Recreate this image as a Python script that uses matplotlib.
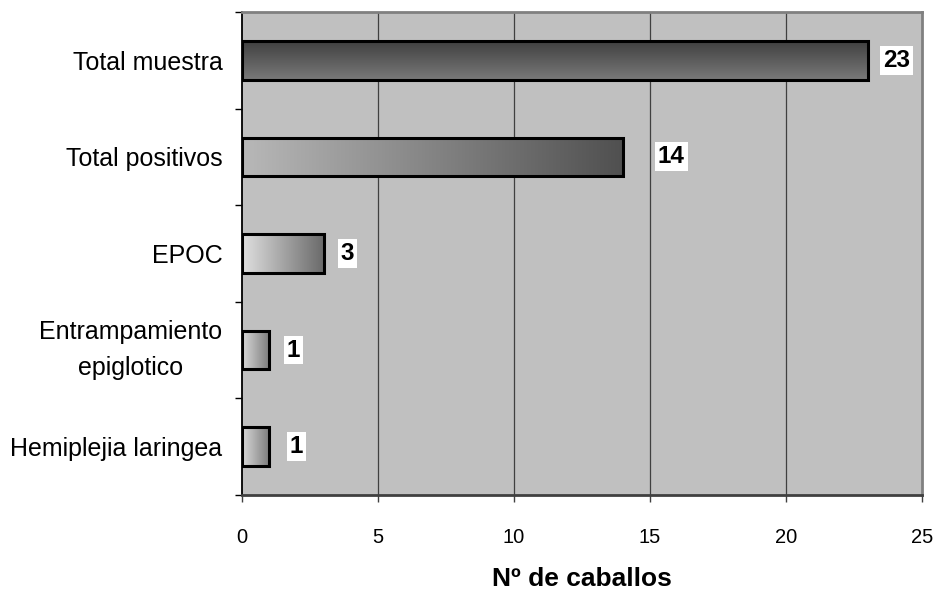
import matplotlib.pyplot as plt
import numpy as np
from matplotlib.colors import LinearSegmentedColormap

plt.rcParams['font.family'] = ['Liberation Sans', 'DejaVu Sans']

# datos
categorias = ['Total muestra', 'Total positivos', 'EPOC',
              'Entrampamiento\nepiglotico', 'Hemiplejia laringea']
caballos = [23, 14, 3, 1, 1]

# degradado de cada barra (claro -> oscuro)
degradados = [('#404040', '#7a7a7a'), ('#b8b8b8', '#505050'),
              ('#e0e0e0', '#6a6a6a'), ('#dadada', '#7a7a7a'),
              ('#dadada', '#7a7a7a')]
vertical = [True, False, False, False, False]
# separación de las etiquetas respecto al final de la barra (pt)
desplaz = [21, 35, 17, 17.5, 19.5]

fig = plt.figure(figsize=(9.36, 5.97), dpi=100)
ax = fig.add_axes([0.2585, 0.171, 0.7265, 0.809])
ax.set_facecolor('#c0c0c0')

n = len(categorias)
y = np.arange(n)[::-1]
alto = 0.40

# líneas de división verticales
for xv in [5, 10, 15, 20]:
    ax.axvline(xv, color='#404040', lw=0.9, zorder=1)

for yi, v, (c0, c1), vert, dx in zip(y, caballos, degradados, vertical, desplaz):
    cmap = LinearSegmentedColormap.from_list('g', [c0, c1])
    if vert:
        grad = np.linspace(0, 1, 256).reshape(-1, 1)
        origin = 'upper'
    else:
        grad = np.linspace(0, 1, 256).reshape(1, -1)
        origin = 'lower'
    ax.imshow(grad, cmap=cmap, aspect='auto', origin=origin,
              extent=(0, v, yi - alto / 2, yi + alto / 2), zorder=2)
    ax.barh(yi, v, height=alto, color='none', edgecolor='black',
            linewidth=2.2, zorder=3)
    ax.annotate(str(v), xy=(v, yi), xytext=(dx, 0), textcoords='offset points',
                ha='center', va='center', fontsize=17.5, fontweight='bold',
                bbox=dict(boxstyle='square,pad=0.12', fc='white', ec='none'),
                zorder=4)

ax.set_xlim(0, 25)
ax.set_ylim(-0.5, n - 0.5)

ax.set_yticks(y)
ax.set_yticklabels(categorias, fontsize=18, multialignment='center',
                   linespacing=1.65)
for lab in ax.get_yticklabels():
    if '\n' in lab.get_text():
        lab.set_va('center')
ax.tick_params(axis='y', which='major', length=0, pad=14)
ax.set_yticks(np.arange(-0.5, n), minor=True)
ax.tick_params(axis='y', which='minor', length=5, width=1, color='black',
               direction='out')

ax.set_xticks([0, 5, 10, 15, 20, 25])
ax.tick_params(axis='x', length=5, width=1, color='#404040', pad=19,
               labelsize=14.5)

ax.spines['left'].set_color('black')
ax.spines['left'].set_linewidth(1.3)
ax.spines['bottom'].set_color('#404040')
ax.spines['bottom'].set_linewidth(2)
ax.spines['top'].set_color('#808080')
ax.spines['top'].set_linewidth(2)
ax.spines['right'].set_color('#808080')
ax.spines['right'].set_linewidth(2)

ax.set_xlabel('Nº de caballos', fontsize=19, fontweight='bold', labelpad=14)

fig.savefig('out.png', dpi=100)
